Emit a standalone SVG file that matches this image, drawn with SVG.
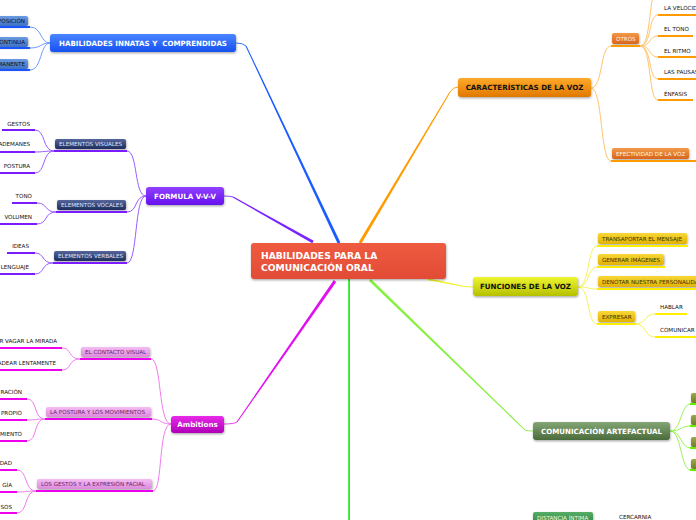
<svg xmlns="http://www.w3.org/2000/svg" width="696" height="520" viewBox="0 0 696 520">
<defs>
<linearGradient id="gBlue" x1="0" y1="0" x2="0" y2="1"><stop offset="0" stop-color="#4a86ff"/><stop offset="1" stop-color="#1650f0"/></linearGradient>
<linearGradient id="gBlueS" x1="0" y1="0" x2="0" y2="1"><stop offset="0" stop-color="#6a9ae0"/><stop offset="1" stop-color="#3f72c4"/></linearGradient>
<linearGradient id="gPurple" x1="0" y1="0" x2="0" y2="1"><stop offset="0" stop-color="#9040ff"/><stop offset="1" stop-color="#6610ee"/></linearGradient>
<linearGradient id="gNavy" x1="0" y1="0" x2="0" y2="1"><stop offset="0" stop-color="#55659a"/><stop offset="1" stop-color="#1e2d5e"/></linearGradient>
<linearGradient id="gMag" x1="0" y1="0" x2="0" y2="1"><stop offset="0" stop-color="#e82ae8"/><stop offset="1" stop-color="#b000b8"/></linearGradient>
<linearGradient id="gPink" x1="0" y1="0" x2="0" y2="1"><stop offset="0" stop-color="#f4bcf4"/><stop offset="1" stop-color="#dc8adc"/></linearGradient>
<linearGradient id="gOrange" x1="0" y1="0" x2="0" y2="1"><stop offset="0" stop-color="#ffaa2a"/><stop offset="1" stop-color="#e07800"/></linearGradient>
<linearGradient id="gOrangeS" x1="0" y1="0" x2="0" y2="1"><stop offset="0" stop-color="#f29a48"/><stop offset="1" stop-color="#d8641a"/></linearGradient>
<linearGradient id="gYellow" x1="0" y1="0" x2="0" y2="1"><stop offset="0" stop-color="#eef530"/><stop offset="1" stop-color="#b5c000"/></linearGradient>
<linearGradient id="gGold" x1="0" y1="0" x2="0" y2="1"><stop offset="0" stop-color="#f8d838"/><stop offset="1" stop-color="#e2b200"/></linearGradient>
<linearGradient id="gGreen" x1="0" y1="0" x2="0" y2="1"><stop offset="0" stop-color="#84a574"/><stop offset="1" stop-color="#4a6b3c"/></linearGradient>
<linearGradient id="gOlive" x1="0" y1="0" x2="0" y2="1"><stop offset="0" stop-color="#9aaa4a"/><stop offset="1" stop-color="#6e7e28"/></linearGradient>
<linearGradient id="gDist" x1="0" y1="0" x2="0" y2="1"><stop offset="0" stop-color="#55ad64"/><stop offset="1" stop-color="#2e8040"/></linearGradient>
<linearGradient id="gCenter" x1="0" y1="0" x2="0" y2="1"><stop offset="0" stop-color="#ee5b41"/><stop offset="1" stop-color="#e24b35"/></linearGradient>
<filter id="sh" x="-10%" y="-30%" width="120%" height="170%"><feDropShadow dx="0.5" dy="1.2" stdDeviation="0.8" flood-color="#000" flood-opacity="0.35"/></filter>
</defs>
<style>
text{font-family:"DejaVu Sans","Verdana",sans-serif}
.t1{font-size:7.1px;font-weight:bold;text-anchor:middle}
.tw{fill:#ffffff}
.tk{fill:#111111}
.ts{font-size:5.6px}
.tc{font-size:9.2px;font-weight:bold;fill:#ffffff}
.c{fill:none;stroke-width:1}
.cb{stroke:#6e9bff}
.cp{stroke:#9a5cff}
.cm{stroke:#f07cf0}
.co{stroke:#ffc46e}
.cy{stroke:#f6f25a}
.cg{stroke:#9cf25a}
.ub{stroke:#1a55ff;stroke-width:2}
.up{stroke:#7a1cff;stroke-width:2}
.um{stroke:#ee00ee;stroke-width:2}
.uo{stroke:#ff9a00;stroke-width:2}
.uy{stroke:#ffee00;stroke-width:2}
.ug{stroke:#66ee00;stroke-width:2}
</style>

<g id="connectors">
<!-- main branches -->
<path d="M337.6,243.6 L245.55,46.2 L246.45,45.8 L340.4,242.4 Z" fill="#1a5cff"/>
<path class="c" stroke="#3a75ff" d="M246,46 Q243,43 236,43"/>
<path d="M358.7,242.2 L449.6,91.7 L450.4,92.3 L361.3,243.8 Z" fill="#ff9a00"/>
<path class="c" stroke="#ffa020" d="M450,92 Q453,87 458,87"/>
<path d="M312.3,243.3 L232.75,197.4 L233.25,196.6 L313.7,240.7 Z" fill="#7a22ff"/>
<path class="c" stroke="#8a40ff" d="M233,197 Q230,196 224,196"/>
<path d="M333.8,280.1 L236.6,421.7 L237.4,422.3 L336.2,281.9 Z" fill="#e010f0"/>
<path class="c" stroke="#e840f0" d="M237,422 Q234,424 224,424"/>
<rect x="348.2" y="279" width="1.8" height="241" fill="#22ee22"/>
<path d="M428,278.3 L462,285.6 Q466,286.6 473,286.6 L473,287.4 Q466,287.4 462,286.4 L428,280.3 Z" fill="#f2f22a"/>
<path d="M369,281.1 L524.65,430.36 L525.35,429.64 L371,278.9 Z" fill="#88f040"/>
<path class="c" stroke="#99f050" d="M525,430 Q528,431 533,431"/>

<!-- blue children -->
<path class="c cb" d="M50,43 C40,43 42,27 30,27"/>
<path class="c cb" d="M50,43 C40,43 42,48 30,48"/>
<path class="c cb" d="M50,43 C40,43 42,70 30,70"/>

<!-- formula children -->
<path class="c cp" d="M146,196 C134,196 138,151 127,151"/>
<path class="c cp" d="M146,196 C134,196 138,212 127,212"/>
<path class="c cp" d="M146,196 C134,196 138,263 127,263"/>
<path class="c cp" d="M54,151 C42,151 46,130 35,130"/>
<path class="c cp" d="M54,151 C44,151 44,152 35,152"/>
<path class="c cp" d="M54,151 C42,151 46,173 35,173"/>
<path class="c cp" d="M56,212 C44,212 48,203 37,203"/>
<path class="c cp" d="M56,212 C44,212 48,224 37,224"/>
<path class="c cp" d="M53,263 C41,263 45,253 35,253"/>
<path class="c cp" d="M53,263 C41,263 45,274 35,274"/>

<!-- ambitions children -->
<path class="c cm" d="M171,424 C158,424 162,359 151,359"/>
<path class="c cm" d="M171,424 C160,424 162,419 152,419"/>
<path class="c cm" d="M171,424 C158,424 163,491 153,491"/>
<path class="c cm" d="M80,359 C68,359 72,348 62,348"/>
<path class="c cm" d="M80,359 C68,359 72,370 62,370"/>
<path class="c cm" d="M45,419 C33,419 38,399 27,399"/>
<path class="c cm" d="M45,419 C35,419 36,420 27,420"/>
<path class="c cm" d="M45,419 C33,419 38,441 27,441"/>
<path class="c cm" d="M36,491 C24,491 28,470 17,470"/>
<path class="c cm" d="M36,491 C26,491 26,492 17,492"/>
<path class="c cm" d="M36,491 C24,491 28,513 17,513"/>

<!-- caracteristicas children -->
<path class="c co" d="M591,88 C603,88 600,46 611,46"/>
<path class="c co" d="M591,88 C603,88 600,161 611,161"/>
<path class="c co" d="M640,46 C652,46 648,-10 658,-12"/>
<path class="c co" d="M640,46 C652,46 648,15 658,15"/>
<path class="c co" d="M640,46 C652,46 648,36 658,36"/>
<path class="c co" d="M640,46 C652,46 648,57 658,57"/>
<path class="c co" d="M640,46 C652,46 648,79 658,79"/>
<path class="c co" d="M640,46 C652,46 648,100 658,100"/>

<!-- funciones children -->
<path class="c cy" d="M578,287 C590,287 587,246 597,246"/>
<path class="c cy" d="M578,287 C590,287 587,267 597,267"/>
<path class="c cy" d="M578,287 C590,287 587,289 597,289"/>
<path class="c cy" d="M578,287 C590,287 587,324 597,324"/>
<path class="c cy" d="M635,324 C647,324 644,314 655,314"/>
<path class="c cy" d="M635,324 C647,324 644,337 655,337"/>

<!-- artefactual children -->
<path class="c cg" d="M670,431 C682,431 680,404 691,404"/>
<path class="c cg" d="M670,431 C682,431 680,426 691,426"/>
<path class="c cg" d="M670,431 C682,431 680,448 691,448"/>
<path class="c cg" d="M670,431 C682,431 680,470 691,470"/>
</g>

<!-- center -->
<g id="n-center">
<rect x="251" y="243" width="195" height="36" rx="3" fill="url(#gCenter)" filter="url(#sh)"/>
<text class="tc" x="261" y="259">HABILIDADES PARA LA</text>
<text class="tc" x="261" y="271">COMUNICACIÓN ORAL</text>
</g>

<!-- blue branch -->
<g id="n-innatas">
<rect x="50" y="34" width="186" height="18" rx="3" fill="url(#gBlue)" filter="url(#sh)"/>
<text class="t1 tw" x="143" y="45.5" style="white-space:pre">HABILIDADES INNATAS Y  COMPRENDIDAS</text>
</g>
<g id="n-posicion">
<rect x="-5" y="16" width="33" height="10" rx="2" fill="url(#gBlueS)" filter="url(#sh)"/>
<line class="ub" x1="0" y1="27" x2="30" y2="27"/>
<text class="ts tk" x="25" y="23.2" text-anchor="end">POSICIÓN</text>
</g>
<g id="n-continua">
<rect x="-5" y="37" width="33" height="10" rx="2" fill="url(#gBlueS)" filter="url(#sh)"/>
<line class="ub" x1="0" y1="48" x2="30" y2="48"/>
<text class="ts tk" x="25" y="44.2" text-anchor="end">CONTINUA</text>
</g>
<g id="n-manente">
<rect x="-5" y="59" width="33" height="10" rx="2" fill="url(#gBlueS)" filter="url(#sh)"/>
<line class="ub" x1="0" y1="70" x2="30" y2="70"/>
<text class="ts tk" x="25" y="66.2" text-anchor="end">MANENTE</text>
</g>

<!-- formula branch -->
<g id="n-formula">
<rect x="146" y="187" width="78" height="18" rx="3" fill="url(#gPurple)" filter="url(#sh)"/>
<text class="t1 tw" x="185" y="198.5">FORMULA V-V-V</text>
</g>
<g id="n-visuales">
<rect x="55" y="139" width="71" height="10" rx="2" fill="url(#gNavy)" filter="url(#sh)"/>
<line class="up" x1="54" y1="151" x2="127" y2="151"/>
<text class="ts" fill="#dfe5ff" x="59" y="146.2">ELEMENTOS VISUALES</text>
</g>
<g id="n-vocales">
<rect x="57" y="200" width="69" height="10" rx="2" fill="url(#gNavy)" filter="url(#sh)"/>
<line class="up" x1="56" y1="212" x2="127" y2="212"/>
<text class="ts" fill="#dfe5ff" x="61" y="207.2">ELEMENTOS VOCALES</text>
</g>
<g id="n-verbales">
<rect x="54" y="251" width="72" height="10" rx="2" fill="url(#gNavy)" filter="url(#sh)"/>
<line class="up" x1="53" y1="263" x2="127" y2="263"/>
<text class="ts" fill="#dfe5ff" x="58" y="258.2">ELEMENTOS VERBALES</text>
</g>
<g id="n-gestos"><line class="up" x1="2" y1="130" x2="35" y2="130"/><text class="ts tk" x="30" y="125.5" text-anchor="end">GESTOS</text></g>
<g id="n-ademanes"><line class="up" x1="0" y1="152" x2="35" y2="152"/><text class="ts tk" x="30" y="146" text-anchor="end">ADEMANES</text></g>
<g id="n-postura"><line class="up" x1="0" y1="173" x2="35" y2="173"/><text class="ts tk" x="30" y="168" text-anchor="end">POSTURA</text></g>
<g id="n-tono"><line class="up" x1="12" y1="203" x2="37" y2="203"/><text class="ts tk" x="32" y="197.5" text-anchor="end">TONO</text></g>
<g id="n-volumen"><line class="up" x1="0" y1="224" x2="37" y2="224"/><text class="ts tk" x="32" y="219" text-anchor="end">VOLUMEN</text></g>
<g id="n-ideas"><line class="up" x1="7" y1="253" x2="35" y2="253"/><text class="ts tk" x="29" y="248" text-anchor="end">IDEAS</text></g>
<g id="n-lenguaje"><line class="up" x1="0" y1="274" x2="35" y2="274"/><text class="ts tk" x="29" y="269" text-anchor="end">LENGUAJE</text></g>

<!-- ambitions branch -->
<g id="n-ambitions">
<rect x="171" y="416" width="53" height="17" rx="3" fill="url(#gMag)" filter="url(#sh)"/>
<text class="t1 tw" x="197.5" y="427">Ambitions</text>
</g>
<g id="n-contacto">
<rect x="81" y="347" width="69" height="10" rx="2" fill="url(#gPink)" filter="url(#sh)"/>
<line class="um" x1="80" y1="359" x2="151" y2="359"/>
<text class="ts" fill="#6a1f6a" x="85" y="354.2">EL CONTACTO VISUAL</text>
</g>
<g id="n-posturamov">
<rect x="46" y="407" width="105" height="10" rx="2" fill="url(#gPink)" filter="url(#sh)"/>
<line class="um" x1="45" y1="419" x2="152" y2="419"/>
<text class="ts" fill="#6a1f6a" x="50" y="414.2">LA POSTURA Y LOS MOVIMIENTOS</text>
</g>
<g id="n-gestosfacial">
<rect x="37" y="479" width="115" height="10" rx="2" fill="url(#gPink)" filter="url(#sh)"/>
<line class="um" x1="36" y1="491" x2="153" y2="491"/>
<text class="ts" fill="#6a1f6a" x="41" y="486.2">LOS GESTOS Y LA EXPRESIÓN FACIAL</text>
</g>
<g id="n-mirada"><line class="um" x1="0" y1="348" x2="62" y2="348"/><text class="ts tk" x="57" y="343" text-anchor="end">R VAGAR LA MIRADA</text></g>
<g id="n-lentamente"><line class="um" x1="0" y1="370" x2="62" y2="370"/><text class="ts tk" x="56" y="364.5" text-anchor="end">ADEAR LENTAMENTE</text></g>
<g id="n-racion"><line class="um" x1="0" y1="399" x2="27" y2="399"/><text class="ts tk" x="22" y="393.5" text-anchor="end">RACIÓN</text></g>
<g id="n-propio"><line class="um" x1="0" y1="420" x2="27" y2="420"/><text class="ts tk" x="22" y="415" text-anchor="end">PROPIO</text></g>
<g id="n-miento"><line class="um" x1="0" y1="441" x2="27" y2="441"/><text class="ts tk" x="22" y="436" text-anchor="end">MIENTO</text></g>
<g id="n-dad"><line class="um" x1="0" y1="470" x2="17" y2="470"/><text class="ts tk" x="12" y="465" text-anchor="end">DAD</text></g>
<g id="n-gia"><line class="um" x1="0" y1="492" x2="17" y2="492"/><text class="ts tk" x="12" y="487" text-anchor="end">GÍA</text></g>
<g id="n-sos"><line class="um" x1="0" y1="513" x2="17" y2="513"/><text class="ts tk" x="12" y="508.5" text-anchor="end">SOS</text></g>

<!-- caracteristicas branch -->
<g id="n-caract">
<rect x="458" y="78" width="133" height="19" rx="3" fill="url(#gOrange)" filter="url(#sh)"/>
<text class="t1 tk" x="524.5" y="90">CARACTERÍSTICAS DE LA VOZ</text>
</g>
<g id="n-otros">
<rect x="612" y="33" width="27" height="11" rx="2" fill="url(#gOrangeS)" filter="url(#sh)"/>
<line class="uo" x1="611" y1="46" x2="640" y2="46"/>
<text class="ts" fill="#fff2e4" x="616" y="40.8">OTROS</text>
</g>
<g id="n-efectividad">
<rect x="612" y="148" width="77" height="11" rx="2" fill="url(#gOrangeS)" filter="url(#sh)"/>
<line class="uo" x1="611" y1="161" x2="696" y2="161"/>
<text class="ts" fill="#fff2e4" x="616" y="155.8">EFECTIVIDAD DE LA VOZ</text>
</g>
<g id="n-velocidad"><line class="uo" x1="658" y1="15" x2="696" y2="15"/><text class="ts tk" x="664" y="9.5">LA VELOCIDAD</text></g>
<g id="n-eltono"><line class="uo" x1="658" y1="36" x2="693" y2="36"/><text class="ts tk" x="664" y="31">EL TONO</text></g>
<g id="n-ritmo"><line class="uo" x1="658" y1="57" x2="696" y2="57"/><text class="ts tk" x="664" y="52.5">EL RITMO</text></g>
<g id="n-pausas"><line class="uo" x1="658" y1="79" x2="696" y2="79"/><text class="ts tk" x="664" y="74">LAS PAUSAS</text></g>
<g id="n-enfasis"><line class="uo" x1="658" y1="100" x2="693" y2="100"/><text class="ts tk" x="664" y="95.5">ÉNFASIS</text></g>

<!-- funciones branch -->
<g id="n-funciones">
<rect x="473" y="277" width="105" height="19" rx="3" fill="url(#gYellow)" filter="url(#sh)"/>
<text class="t1 tk" x="525.5" y="289">FUNCIONES DE LA VOZ</text>
</g>
<g id="n-transaportar">
<rect x="598" y="233" width="89" height="11" rx="2" fill="url(#gGold)" filter="url(#sh)"/>
<line class="uy" x1="597" y1="246" x2="688" y2="246"/>
<text class="ts" fill="#3a3000" x="602" y="240.8">TRANSAPORTAR EL MENSAJE</text>
</g>
<g id="n-generar">
<rect x="598" y="254" width="66" height="11" rx="2" fill="url(#gGold)" filter="url(#sh)"/>
<line class="uy" x1="597" y1="267" x2="665" y2="267"/>
<text class="ts" fill="#3a3000" x="602" y="261.8">GENERAR IMÁGENES</text>
</g>
<g id="n-denotar">
<rect x="598" y="276" width="110" height="11" rx="2" fill="url(#gGold)" filter="url(#sh)"/>
<line class="uy" x1="597" y1="289" x2="696" y2="289"/>
<text class="ts" fill="#3a3000" x="602" y="283.8">DENOTAR NUESTRA PERSONALIDAD</text>
</g>
<g id="n-expresar">
<rect x="598" y="311" width="37" height="11" rx="2" fill="url(#gGold)" filter="url(#sh)"/>
<line class="uy" x1="597" y1="324" x2="636" y2="324"/>
<text class="ts" fill="#3a3000" x="602" y="318.8">EXPRESAR</text>
</g>
<g id="n-hablar"><line class="uy" x1="655" y1="314" x2="687" y2="314"/><text class="ts tk" x="660" y="308.5">HABLAR</text></g>
<g id="n-comunicar"><line class="uy" x1="655" y1="337" x2="696" y2="337"/><text class="ts tk" x="660" y="331.5">COMUNICAR</text></g>

<!-- artefactual branch -->
<g id="n-artefactual">
<rect x="533" y="422" width="137" height="18" rx="3" fill="url(#gGreen)" filter="url(#sh)"/>
<text class="t1 tw" x="601.5" y="433.5">COMUNICACIÓN ARTEFACTUAL</text>
</g>
<g id="n-art1"><rect x="691" y="393" width="10" height="10" rx="2" fill="url(#gOlive)" filter="url(#sh)"/><line class="ug" x1="690" y1="404" x2="696" y2="404"/></g>
<g id="n-art2"><rect x="691" y="415" width="10" height="10" rx="2" fill="url(#gOlive)" filter="url(#sh)"/><line class="ug" x1="690" y1="426" x2="696" y2="426"/></g>
<g id="n-art3"><rect x="691" y="437" width="10" height="10" rx="2" fill="url(#gOlive)" filter="url(#sh)"/><line class="ug" x1="690" y1="448" x2="696" y2="448"/></g>
<g id="n-art4"><rect x="691" y="459" width="10" height="10" rx="2" fill="url(#gOlive)" filter="url(#sh)"/><line class="ug" x1="690" y1="470" x2="696" y2="470"/></g>

<!-- bottom -->
<g id="n-distancia">
<rect x="533" y="512" width="60" height="14" rx="2" fill="url(#gDist)" filter="url(#sh)"/>
<text class="ts" fill="#eaffea" x="537" y="519.5">DISTANCIA ÍNTIMA</text>
</g>
<g id="n-cercarnia"><text class="ts tk" x="619" y="519">CERCARNIA</text></g>
</svg>
